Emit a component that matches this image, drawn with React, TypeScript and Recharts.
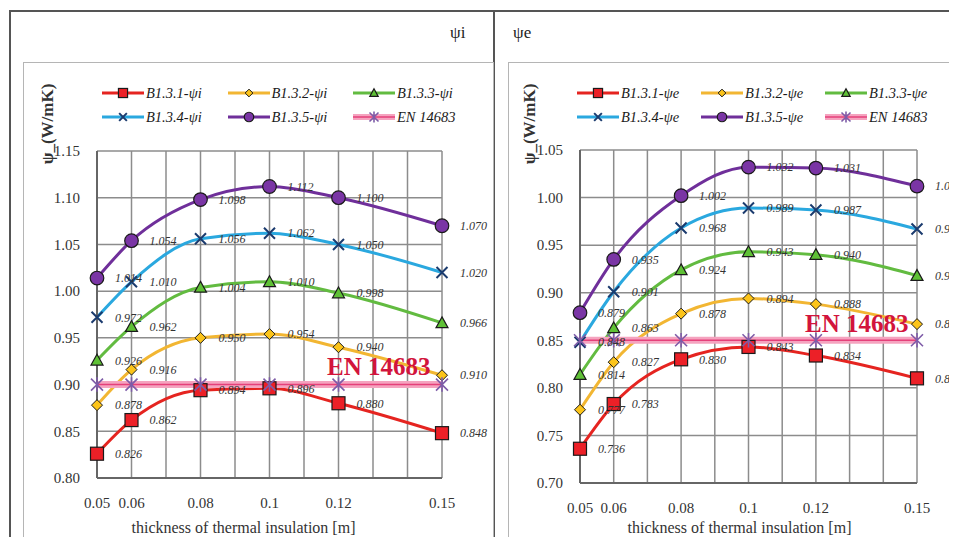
import React from "react";
import { LineChart, Line, XAxis, YAxis, CartesianGrid, LabelList } from "recharts";

const FONT = '"Liberation Serif", "Times New Roman", serif';

// insulation thickness [m]
const thickness = [0.05, 0.06, 0.08, 0.1, 0.12, 0.15];
const xGridTicks = [0.05, 0.06, 0.07, 0.08, 0.09, 0.1, 0.11, 0.12, 0.13, 0.14, 0.15];

// psi_i (W/mK)
const psiI_131 = [0.826, 0.862, 0.894, 0.896, 0.88, 0.848];
const psiI_132 = [0.878, 0.916, 0.95, 0.954, 0.94, 0.91];
const psiI_133 = [0.926, 0.962, 1.004, 1.01, 0.998, 0.966];
const psiI_134 = [0.972, 1.01, 1.056, 1.062, 1.05, 1.02];
const psiI_135 = [1.014, 1.054, 1.098, 1.112, 1.1, 1.07];
const enI = [0.9, 0.9, 0.9, 0.9, 0.9, 0.9];
const yTicksI = [0.8, 0.85, 0.9, 0.95, 1.0, 1.05, 1.1, 1.15];

// psi_e (W/mK)
const psiE_131 = [0.736, 0.783, 0.83, 0.843, 0.834, 0.81];
const psiE_132 = [0.777, 0.827, 0.878, 0.894, 0.888, 0.867];
const psiE_133 = [0.814, 0.863, 0.924, 0.943, 0.94, 0.918];
const psiE_134 = [0.848, 0.901, 0.968, 0.989, 0.987, 0.967];
const psiE_135 = [0.879, 0.935, 1.002, 1.032, 1.031, 1.012];
const enE = [0.85, 0.85, 0.85, 0.85, 0.85, 0.85];
const yTicksE = [0.7, 0.75, 0.8, 0.85, 0.9, 0.95, 1.0, 1.05];

const variants = ["B1.3.1", "B1.3.2", "B1.3.3", "B1.3.4", "B1.3.5"];
const lineColors = ["#e52420", "#f2b632", "#62bb40", "#2aa8df", "#6f2f9a"];
const markerFills = ["#ec2027", "#fcc419", "#5fc136", "#1b3b6e", "#7a35a5"];
const markerKinds = ["square", "diamond", "triangle", "cross", "circle"];

const EN_BAND = "#f5a3bf";
const EN_LINE = "#e5407a";
const EN_STAR = "#7e5ca8";

function marker(kind: string, cx: number, cy: number, fill: string, s = 1, key?: any) {
  switch (kind) {
    case "square": {
      const h = 6.5 * s;
      return <rect key={key} x={cx - h} y={cy - h} width={2 * h} height={2 * h} fill={fill} stroke="#1a1a1a" strokeWidth={1.2} />;
    }
    case "diamond": {
      const h = 5.5 * s;
      return (
        <polygon key={key} points={`${cx},${cy - h} ${cx + h},${cy} ${cx},${cy + h} ${cx - h},${cy}`} fill={fill} stroke="#1a1a1a" strokeWidth={1} />
      );
    }
    case "triangle": {
      const h = 6 * s;
      return (
        <polygon key={key} points={`${cx},${cy - h} ${cx + h},${cy + h * 0.8} ${cx - h},${cy + h * 0.8}`} fill={fill} stroke="#1a1a1a" strokeWidth={1.2} />
      );
    }
    case "cross": {
      const h = 5.5 * s;
      return (
        <path key={key} d={`M${cx - h},${cy - h}L${cx + h},${cy + h}M${cx - h},${cy + h}L${cx + h},${cy - h}`} stroke={fill} strokeWidth={2} fill="none" />
      );
    }
    case "circle":
      return <circle key={key} cx={cx} cy={cy} r={6.8 * s} fill={fill} stroke="#1a1a1a" strokeWidth={1.2} />;
    default: {
      const h = 6 * s;
      return (
        <path
          key={key}
          d={`M${cx - h},${cy - h}L${cx + h},${cy + h}M${cx - h},${cy + h}L${cx + h},${cy - h}M${cx},${cy - h * 1.2}L${cx},${cy + h * 1.2}`}
          stroke={fill}
          strokeWidth={1.6}
          fill="none"
        />
      );
    }
  }
}

function buildRows(values: number[][], en: number[]) {
  return thickness.map((t, i) => {
    const row: any = { t, en: en[i] };
    values.forEach((v, j) => (row[`s${j}`] = v[i]));
    return row;
  });
}

function LegendBox({ suffix, left, col }: { suffix: string; left: number; col: number }) {
  const items = variants.map((v, i) => ({
    name: `${v}-${suffix}`,
    color: lineColors[i],
    kind: markerKinds[i],
    fill: markerFills[i],
  }));
  return (
    <div
      style={{
        position: "absolute",
        left,
        top: 85,
        display: "grid",
        gridTemplateColumns: `repeat(3, ${col}px)`,
        rowGap: 8,
      }}
    >
      {items.map((it) => (
        <div key={it.name} style={{ display: "flex", alignItems: "center", height: 16 }}>
          <svg width={42} height={16}>
            <line x1={0} y1={8} x2={42} y2={8} stroke={it.color} strokeWidth={3} />
            {marker(it.kind, 21, 8, it.fill, 0.7)}
          </svg>
          <span style={{ fontStyle: "italic", fontSize: 14.5, marginLeft: 2, color: "#1a1a1a" }}>{it.name}</span>
        </div>
      ))}
      <div style={{ display: "flex", alignItems: "center", height: 16 }}>
        <svg width={42} height={16}>
          <line x1={0} y1={8} x2={42} y2={8} stroke={EN_BAND} strokeWidth={6} />
          <line x1={0} y1={8} x2={42} y2={8} stroke={EN_LINE} strokeWidth={1.5} />
          {marker("star", 21, 8, EN_STAR, 0.75)}
        </svg>
        <span style={{ fontStyle: "italic", fontSize: 14.5, marginLeft: 2, color: "#1a1a1a" }}>EN 14683</span>
      </div>
    </div>
  );
}

interface PanelProps {
  values: number[][];
  en: number[];
  yTicks: number[];
  width: number;
  height: number;
  top: number;
  right: number;
  yWidth: number;
  xHeight: number;
  titleDx: number;
}

function Panel({ values, en, yTicks, width, height, top, right, yWidth, xHeight, titleDx }: PanelProps) {
  const rows = buildRows(values, en);
  const tickStyle = { fill: "#333", fontSize: 15, fontFamily: FONT };
  return (
    <LineChart width={width} height={height} data={rows} margin={{ top, right, left: 0, bottom: 0 }}>
      <CartesianGrid stroke="#8c8c8c" strokeWidth={1.5} />
      <XAxis
        dataKey="t"
        type="number"
        domain={[0.05, 0.15]}
        ticks={xGridTicks}
        interval={0}
        height={xHeight}
        tickLine={false}
        tickSize={0}
        tickMargin={19}
        tick={tickStyle}
        tickFormatter={(v: number) => (thickness.includes(v) ? String(v) : "")}
        axisLine={{ stroke: "#666", strokeWidth: 2 }}
        label={{
          value: "thickness of thermal insulation [m]",
          position: "insideBottom",
          offset: 9,
          dx: titleDx,
          style: { fill: "#333", fontSize: 16, fontFamily: FONT },
        }}
      />
      <YAxis
        type="number"
        domain={[yTicks[0], yTicks[yTicks.length - 1]]}
        ticks={yTicks}
        interval={0}
        width={yWidth}
        tickLine={false}
        tickSize={0}
        tickMargin={17}
        tick={tickStyle}
        tickFormatter={(v: number) => v.toFixed(2)}
        axisLine={{ stroke: "#666", strokeWidth: 2 }}
      />
      {variants.map((v, i) => (
        <Line
          key={v}
          dataKey={`s${i}`}
          type="monotone"
          stroke={lineColors[i]}
          strokeWidth={3}
          isAnimationActive={false}
          activeDot={false}
          dot={(p: any) => marker(markerKinds[i], p.cx, p.cy, markerFills[i], 1, `d${i}-${p.index}`)}
        >
          <LabelList
            dataKey={`s${i}`}
            position="right"
            offset={18}
            formatter={(val: any) => Number(val).toFixed(3)}
            fill="#333"
            fontSize={12}
            fontStyle="italic"
            fontFamily={FONT}
          />
        </Line>
      ))}
      <Line dataKey="en" type="linear" stroke={EN_BAND} strokeWidth={7} dot={false} activeDot={false} isAnimationActive={false} />
      <Line
        dataKey="en"
        type="linear"
        stroke={EN_LINE}
        strokeWidth={1.5}
        activeDot={false}
        isAnimationActive={false}
        dot={(p: any) => marker("star", p.cx, p.cy, EN_STAR, 1, `en-${p.index}`)}
      />
    </LineChart>
  );
}

function Rotated({ x, y, text }: { x: number; y: number; text: string }) {
  return (
    <div
      style={{
        position: "absolute",
        left: x,
        top: y,
        transform: "translate(-50%, -50%) rotate(-90deg)",
        whiteSpace: "nowrap",
        fontSize: 17,
        fontWeight: "bold",
        color: "#333",
      }}
    >
      {text}
    </div>
  );
}

const enTag: React.CSSProperties = {
  position: "absolute",
  fontSize: 25,
  lineHeight: "25px",
  fontWeight: "bold",
  color: "#d2143c",
  whiteSpace: "nowrap",
};

export default function App() {
  return (
    <div
      style={{
        position: "relative",
        width: 957,
        height: 545,
        margin: -8,
        overflow: "hidden",
        background: "#fff",
        fontFamily: FONT,
      }}
    >
      <style>{`html, body { overflow: hidden; } .recharts-wrapper svg text, .recharts-text { font-family: "Liberation Serif", "Times New Roman", serif !important; }`}</style>
      {/* table frame */}
      <div style={{ position: "absolute", left: 9, top: 10, width: 960, height: 560, borderLeft: "2px solid #555", borderTop: "2px solid #555" }} />
      <div style={{ position: "absolute", left: 493, top: 10, width: 2, height: 540, background: "#555" }} />
      <div style={{ position: "absolute", left: 450, top: 22, fontSize: 17, lineHeight: "22px", color: "#222" }}>ψi</div>
      <div style={{ position: "absolute", left: 513, top: 22, fontSize: 17, lineHeight: "22px", color: "#222" }}>ψe</div>

      {/* chart boxes */}
      <div style={{ position: "absolute", left: 23, top: 62, width: 471, height: 480, boxSizing: "border-box", border: "1.5px solid #b5b5b5" }} />
      <div style={{ position: "absolute", left: 508, top: 62, width: 460, height: 480, boxSizing: "border-box", border: "1.5px solid #b5b5b5" }} />

      <div style={{ position: "absolute", left: 23, top: 62 }}>
        <Panel
          values={[psiI_131, psiI_132, psiI_133, psiI_134, psiI_135]}
          en={enI}
          yTicks={yTicksI}
          width={471}
          height={480}
          top={89}
          right={52}
          yWidth={74}
          xHeight={64}
          titleDx={-26}
        />
      </div>
      <div style={{ position: "absolute", left: 508, top: 62 }}>
        <Panel
          values={[psiE_131, psiE_132, psiE_133, psiE_134, psiE_135]}
          en={enE}
          yTicks={yTicksE}
          width={449}
          height={480}
          top={88}
          right={40}
          yWidth={72}
          xHeight={59}
          titleDx={-9}
        />
      </div>

      <LegendBox suffix="ψi" left={102} col={125.5} />
      <LegendBox suffix="ψe" left={577} col={124} />

      <Rotated x={48} y={124} text="ψ_(W/mK)" />
      <Rotated x={530} y={124} text="ψ_(W/mK)" />

      <div style={{ ...enTag, left: 327, top: 354 }}>EN 14683</div>
      <div style={{ ...enTag, left: 805, top: 311 }}>EN 14683</div>
    </div>
  );
}
